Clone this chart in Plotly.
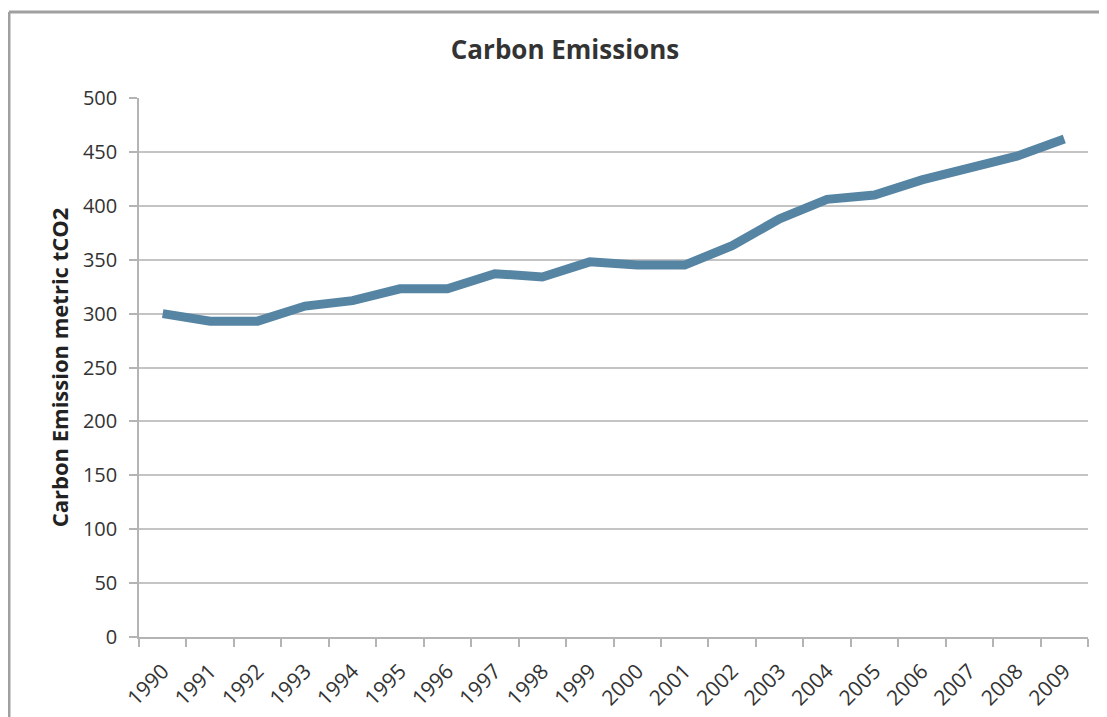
import plotly.graph_objects as go

years = [str(y) for y in range(1990, 2010)]
emissions = [300, 293, 293, 307, 312, 323, 323, 337, 334, 348,
             345, 345, 363, 388, 406, 410, 424, 436, 446, 462]
y_ticks = list(range(0, 501, 50))

FONT = "Open Sans"
fig = go.Figure()
fig.add_trace(go.Scatter(
    x=years, y=emissions, mode="lines",
    line=dict(color="rgb(86,133,164)", width=9),
    hoverinfo="x+y", showlegend=False,
))

L, T, R, B = 131, 90, 27, 88
PW, PH = 1107 - L - R, 717 - T - B

fig.update_layout(
    width=1107, height=717,
    margin=dict(l=L, r=R, t=T, b=B),
    paper_bgcolor="white", plot_bgcolor="white",
    font=dict(family=FONT, color="#333333", size=19),
    title=dict(text="<b>Carbon Emissions</b>", x=557 / 1107, xanchor="center",
               xref="container",
               y=1 - 42 / 717, yanchor="middle",
               font=dict(family=FONT, size=26, color="#333333")),
    xaxis=dict(
        type="category", range=[-0.5, 19.5],
        tickson="boundaries", ticks="outside", ticklen=8,
        tickcolor="#b4b4b4", tickwidth=1.5,
        showline=True, linecolor="#b4b4b4", linewidth=1.5,
        showgrid=False, tickangle=-45, ticklabelstandoff=12,
        tickfont=dict(family=FONT, size=21, color="#333333"),
    ),
    yaxis=dict(
        range=[0, 500], tickvals=y_ticks, ticks="outside", ticklen=8,
        tickcolor="#b4b4b4", tickwidth=1.5,
        showline=True, linecolor="#b4b4b4", linewidth=1.5,
        showgrid=True, gridcolor="#c4c4c4", gridwidth=1.5,
        zeroline=False, ticklabelstandoff=8,
        tickfont=dict(family=FONT, size=20, color="#333333"),
        title=dict(text="<b>Carbon Emission metric tCO2</b>", standoff=8,
                   font=dict(family=FONT, size=22, color="#222222")),
    ),
)

# outer frame (left and top edges visible)
fx = (1 - L) / PW
fy = (PH + T - 4) / PH
fig.add_shape(type="line", xref="paper", yref="paper",
              x0=fx, x1=1.1, y0=fy, y1=fy,
              line=dict(color="#a0a0a0", width=3))
fig.add_shape(type="line", xref="paper", yref="paper",
              x0=fx, x1=fx, y0=fy, y1=-0.3,
              line=dict(color="#a0a0a0", width=3))

fig.write_html("out.html")
